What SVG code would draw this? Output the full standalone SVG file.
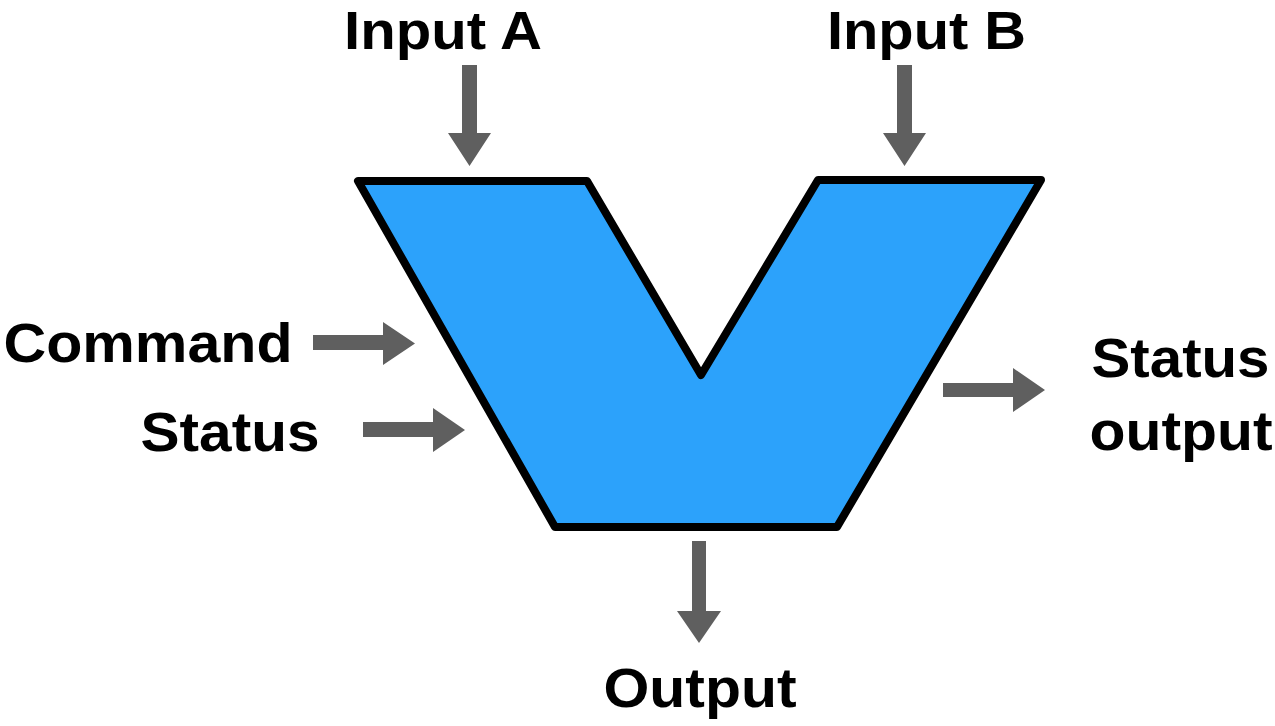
<svg xmlns="http://www.w3.org/2000/svg" width="1275" height="726" viewBox="0 0 1275 726">
<style>
.lbl{font-family:"Liberation Sans",Arial,Helvetica,sans-serif;font-weight:bold;font-size:55px;fill:#000;text-anchor:middle}
.arr{fill:#5f5f5f}
.shape{fill:#2ca2fb;stroke:#000;stroke-width:8;stroke-linejoin:round}
</style>
<rect width="1275" height="726" fill="#fff"/>
<g id="mixer">
<polygon class="shape" points="358,181 587,181 701,375 818,180 1041,180 837,527 555,527"/>
</g>
<g id="input-a"><text class="lbl" x="443" y="49" style="font-size:54px" textLength="198" lengthAdjust="spacingAndGlyphs">Input A</text></g>
<g id="input-b"><text class="lbl" x="926.5" y="49" style="font-size:54px" textLength="199" lengthAdjust="spacingAndGlyphs">Input B</text></g>
<g id="command"><text class="lbl" x="148" y="362" textLength="289" lengthAdjust="spacingAndGlyphs">Command</text></g>
<g id="status"><text class="lbl" x="230" y="451" textLength="179" lengthAdjust="spacingAndGlyphs">Status</text></g>
<g id="status-output"><text class="lbl" x="1180.5" y="377" textLength="178" lengthAdjust="spacingAndGlyphs">Status</text><text class="lbl" x="1181" y="450" textLength="183" lengthAdjust="spacingAndGlyphs">output</text></g>
<g id="output"><text class="lbl" x="700" y="707" textLength="193" lengthAdjust="spacingAndGlyphs">Output</text></g>
<g id="connectors">
<polygon class="arr" points="462,65 477,65 477,133 491,133 469.5,166 448,133 462,133"/>
<polygon class="arr" points="897,65 912,65 912,133 926,133 904.5,166 883,133 897,133"/>
<polygon class="arr" points="313,335 383,335 383,322 415,343.5 383,365 383,350 313,350"/>
<polygon class="arr" points="363,422 433,422 433,408 465,430 433,452 433,437 363,437"/>
<polygon class="arr" points="943,383 1013,383 1013,368 1045,390 1013,412 1013,397 943,397"/>
<polygon class="arr" points="692,541 706,541 706,611 721,611 699,643 677,611 692,611"/>
</g>
</svg>
